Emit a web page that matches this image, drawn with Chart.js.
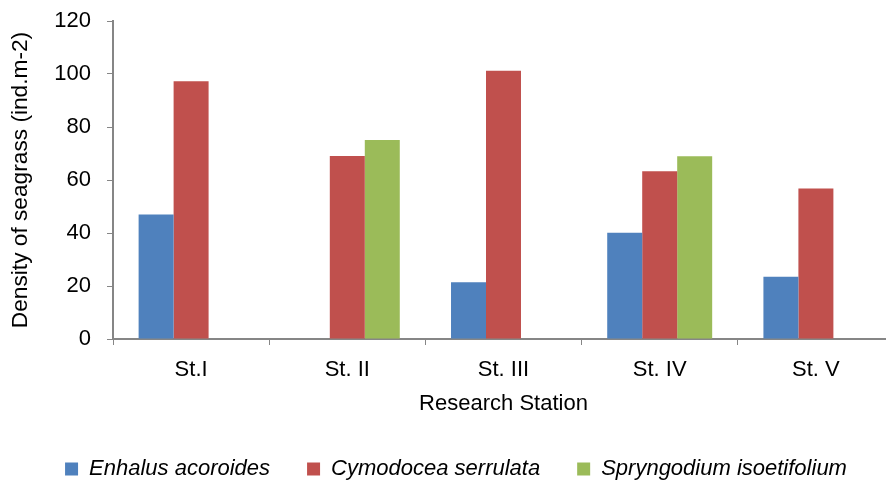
<!DOCTYPE html>
<html>
<head>
<meta charset="utf-8">
<script src="https://cdn.jsdelivr.net/npm/chart.js@4"></script>
<style>
html,body{margin:0;padding:0;background:#fff;overflow:hidden;}
#wrap{width:886px;height:483px;overflow:hidden;position:relative;}
#box{width:900px;height:483px;position:absolute;left:0;top:0;}
</style>
</head>
<body>
<div id="wrap"><div id="box"><canvas id="c"></canvas></div></div>
<script>
const categories = ['St.I', 'St. II', 'St. III', 'St. IV', 'St. V'];
const enhalus = [47.0, 0, 21.4, 40.1, 23.5];
const cymodocea = [97.3, 69.1, 101.2, 63.3, 56.8];
const spryngodium = [0, 75.1, 0, 69.0, 0];
const seriesNames = ['Enhalus acoroides', 'Cymodocea serrulata', 'Spryngodium isoetifolium'];
const yTicks = [0, 20, 40, 60, 80, 100, 120];

const FONT = "'Liberation Sans', Arial, sans-serif";
const axisColor = '#868686';

new Chart(document.getElementById('c'), {
  type: 'bar',
  data: {
    labels: categories,
    datasets: [
      {label: seriesNames[0], data: enhalus, backgroundColor: '#4F81BD'},
      {label: seriesNames[1], data: cymodocea, backgroundColor: '#C0504D'},
      {label: seriesNames[2], data: spryngodium, backgroundColor: '#9BBB59'}
    ]
  },
  options: {
    responsive: true,
    maintainAspectRatio: false,
    animation: false,
    datasets: {bar: {barPercentage: 1, categoryPercentage: 0.672, borderWidth: 0}},
    layout: {padding: {left: 18, right: 6, top: 21, bottom: -7}},
    plugins: {
      tooltip: {enabled: false},
      legend: {
        position: 'bottom',
        labels: {
          boxWidth: 13, boxHeight: 13, padding: 37, color: '#000',
          font: {family: FONT, size: 22, style: 'italic'}
        }
      }
    },
    scales: {
      x: {
        grid: {display: true, drawOnChartArea: false, drawTicks: true, tickLength: 6, color: axisColor, offset: true},
        border: {display: true, color: axisColor, width: 2},
        ticks: {color: '#000', font: {family: FONT, size: 22}, padding: 12},
        title: {display: true, text: 'Research Station', color: '#000', font: {family: FONT, size: 22}, padding: {top: 2, bottom: 4}},
        afterFit: s => { s.height = 82; }
      },
      y: {
        min: 0, max: 120,
        afterBuildTicks: s => { s.ticks = yTicks.map(v => ({value: v})); },
        grid: {display: true, drawOnChartArea: false, drawTicks: true, tickLength: 6, color: axisColor},
        border: {display: true, color: axisColor, width: 2},
        ticks: {color: '#000', font: {family: FONT, size: 22}, padding: 16},
        title: {display: true, text: 'Density of seagrass (ind.m-2)', color: '#000', font: {family: FONT, size: 22.7}, padding: {top: -11, bottom: 0}},
        afterFit: s => { s.width = 95; s.paddingTop = 0; s.paddingBottom = 0; }
      }
    }
  }
});
</script>
</body>
</html>
